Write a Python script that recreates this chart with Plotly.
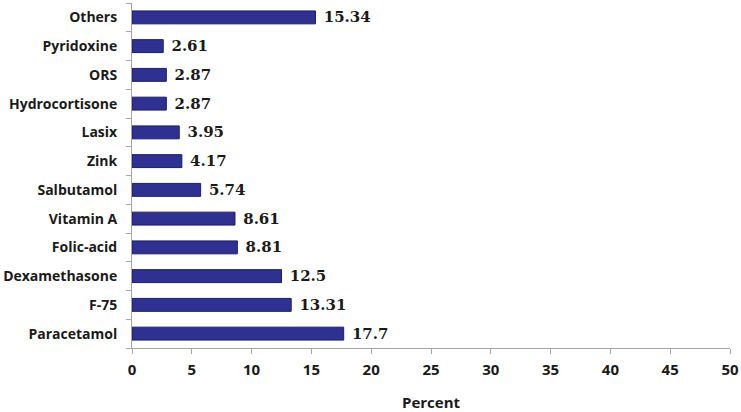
import plotly.graph_objects as go

categories = ["Paracetamol", "F-75", "Dexamethasone", "Folic-acid", "Vitamin A", "Salbutamol",
              "Zink", "Lasix", "Hydrocortisone", "ORS", "Pyridoxine", "Others"]
values = [17.7, 13.31, 12.5, 8.81, 8.61, 5.74, 4.17, 3.95, 2.87, 2.87, 2.61, 15.34]
value_labels = ["17.7", "13.31", "12.5", "8.81", "8.61", "5.74", "4.17", "3.95", "2.87", "2.87", "2.61", "15.34"]
x_ticks = [0, 5, 10, 15, 20, 25, 30, 35, 40, 45, 50]

fig = go.Figure()
fig.add_trace(go.Bar(
    y=categories, x=values, orientation="h",
    text=[" " + t for t in value_labels], textposition="outside", constraintext="none",
    textfont=dict(family="DejaVu Serif", size=15, color="#1a1a1a", weight="bold"),
    marker=dict(color="#2E3192", line=dict(color="#1B1D6B", width=1)),
    width=0.45, cliponaxis=False,
))

fig.update_layout(
    width=741, height=412,
    margin=dict(l=132, r=11, t=3, b=64, autoexpand=False),
    plot_bgcolor="white", paper_bgcolor="white",
    showlegend=False,
    font=dict(family="Lato", color="#1a1a1a"),
)
fig.update_xaxes(
    range=[0, 50], tickvals=x_ticks, showgrid=False, zeroline=False,
    showline=True, linecolor="#A6A6A6", linewidth=1,
    ticks="outside", ticklen=5, tickcolor="#A6A6A6", ticklabelstandoff=3,
    tickfont=dict(family="Open Sans", size=15, color="#1a1a1a", weight="bold"),
    title=dict(text="Percent", font=dict(family="Open Sans", size=15, color="#1a1a1a", weight="bold"), standoff=24),
    automargin=False,
)
fig.update_yaxes(
    categoryorder="array", categoryarray=categories,
    showgrid=False, showline=True, linecolor="#A6A6A6", linewidth=1,
    ticks="outside", ticklen=5, tickcolor="#A6A6A6", tickson="boundaries",
    tickfont=dict(family="Open Sans", size=14, color="#1a1a1a", weight="bold"),
    ticklabelstandoff=11, automargin=False,
)
fig.write_html("out.html", config={"displayModeBar": False},
               post_script="document.body.style.margin='0';")
